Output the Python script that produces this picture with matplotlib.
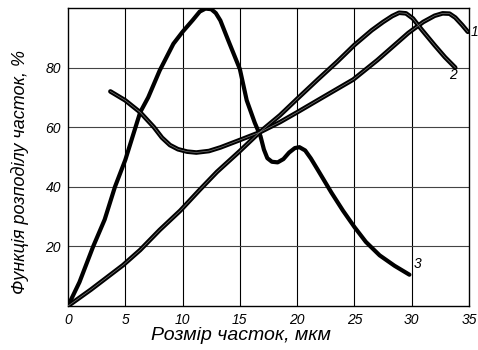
import matplotlib
matplotlib.use("Agg")
import matplotlib.pyplot as plt

# --- Data ---
# curve 1
x1 = [3.7, 5.0, 6.3, 7.5, 8.2, 8.9, 9.6, 10.4, 11.2, 12.3, 13.3, 15.0, 16.8, 18.5,
      20.0, 22.0, 24.9, 27.0, 29.7, 31.0, 32.0, 32.7, 33.3, 33.8, 34.4, 34.9]
y1 = [72, 69, 65, 60, 56.5, 54, 52.6, 51.8, 51.5, 52, 53.2, 55.7, 58.4, 61.7,
      65, 69.5, 76, 82.5, 91.6, 95.3, 97.4, 98.2, 98.1, 96.8, 94.3, 92]

# curve 2
x2 = [0, 2, 4.8, 6.3, 8, 9.8, 11.5, 13, 15, 16.75, 18.5, 20, 21.8, 23.5, 25, 26.5,
      27.5, 28.3, 28.9, 29.5, 30.1, 30.9, 32.0, 32.9, 33.8]
y2 = [0, 5.5, 13.7, 18.8, 25.5, 32, 39, 45, 52, 58.4, 64, 69.5, 76, 82, 87.6, 92.5,
      95.3, 97.3, 98.4, 98.2, 96.5, 92.6, 87.5, 83.5, 80]

# curve 3
x3 = [0, 1, 2.2, 3.2, 4.1, 5, 6.3, 7.0, 8.0, 9.2, 10.0, 10.9, 11.5, 12.0, 12.5, 12.9,
      13.3, 14.0, 15.0, 15.6, 16.3, 16.8, 17.1, 17.4, 17.8, 18.3, 18.8, 19.3, 19.8,
      20.2, 20.7, 21.2, 21.8, 23.0, 24.0, 25.0, 26.0, 27.2, 28.5, 29.8]
y3 = [0, 8, 20, 29, 40, 49, 65, 70, 79, 88, 92, 96, 98.8, 99.8, 99.6, 98.3,
      95.8, 89, 79.5, 69, 61.5, 57, 52.5, 49.6, 48.4, 48.2, 49.3, 51.5, 53,
      53.3, 52.2, 49.5, 45.7, 38, 32, 26.5, 21.5, 17, 13.5, 10.5]

xticks = [0, 5, 10, 15, 20, 25, 30, 35]
yticks = [20, 40, 60, 80]

# --- Fonts ---
plt.rcParams['font.family'] = ['Liberation Sans', 'DejaVu Sans']
plt.rcParams['font.style'] = 'italic'

fig = plt.figure(figsize=(4.78, 3.5), dpi=100)
ax = fig.add_axes([68 / 478, 44 / 350, 401 / 478, 298 / 350])

ax.set_xlim(0, 35)
ax.set_ylim(0, 100)

# grid
for gx in xticks[1:-1]:
    ax.axvline(gx, color='black', lw=0.8, zorder=1)
for gy in yticks:
    ax.axhline(gy, color='#444444', lw=0.8, zorder=1)

# curves (double-line look for 1 and 2)
for xs, ys in [(x1, y1), (x2, y2)]:
    ax.plot(xs, ys, color='black', lw=3.3, solid_capstyle='round',
            solid_joinstyle='round', zorder=3)
    ax.plot(xs, ys, color='#7a7a7a', lw=0.5, zorder=4)
ax.plot(x3, y3, color='black', lw=3.0, solid_capstyle='round',
        solid_joinstyle='round', zorder=3)

# curve labels
ax.text(35.15, 92, '1', fontsize=10, ha='left', va='center', clip_on=False)
ax.text(33.6, 77.5, '2', fontsize=10, ha='center', va='center')
ax.text(30.15, 14, '3', fontsize=10, ha='left', va='center')

ax.set_xticks(xticks)
ax.set_yticks(yticks)
ax.tick_params(length=0, labelsize=10, pad=5)
for s in ax.spines.values():
    s.set_linewidth(1.0)

fig.text(241 / 478, 1 - 336 / 350, 'Розмір часток, мкм', fontsize=14,
         ha='center', va='center')
fig.text(20 / 478, 1 - 172 / 350, 'Функція розподілу часток, %', fontsize=13,
         ha='center', va='center', rotation=90)

fig.savefig('out.png', dpi=100)
